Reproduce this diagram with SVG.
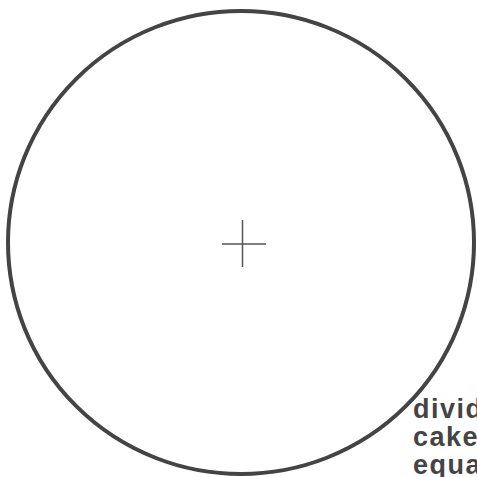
<svg xmlns="http://www.w3.org/2000/svg" width="477" height="477" viewBox="0 0 477 477">
<style>
.ring{fill:none;stroke:#444;stroke-width:4}
.cross{stroke:#555;stroke-width:1.5}
.lbl{font-family:"Liberation Sans",Arial,sans-serif;font-weight:bold;font-size:27px;fill:#444;letter-spacing:1.5px}
</style>
<rect width="477" height="477" fill="#fff"/>
<g id="cake">
<ellipse class="ring" cx="241" cy="242.5" rx="233" ry="231.5"/>
</g>
<g id="center">
<line class="cross" x1="222" y1="244" x2="266" y2="244"/>
<line class="cross" x1="242.5" y1="220" x2="242.5" y2="267"/>
</g>
<g id="label">
<text class="lbl" x="413" y="418">divid</text>
<text class="lbl" x="413" y="446">cake</text>
<text class="lbl" x="413" y="474">equa</text>
</g>
</svg>
